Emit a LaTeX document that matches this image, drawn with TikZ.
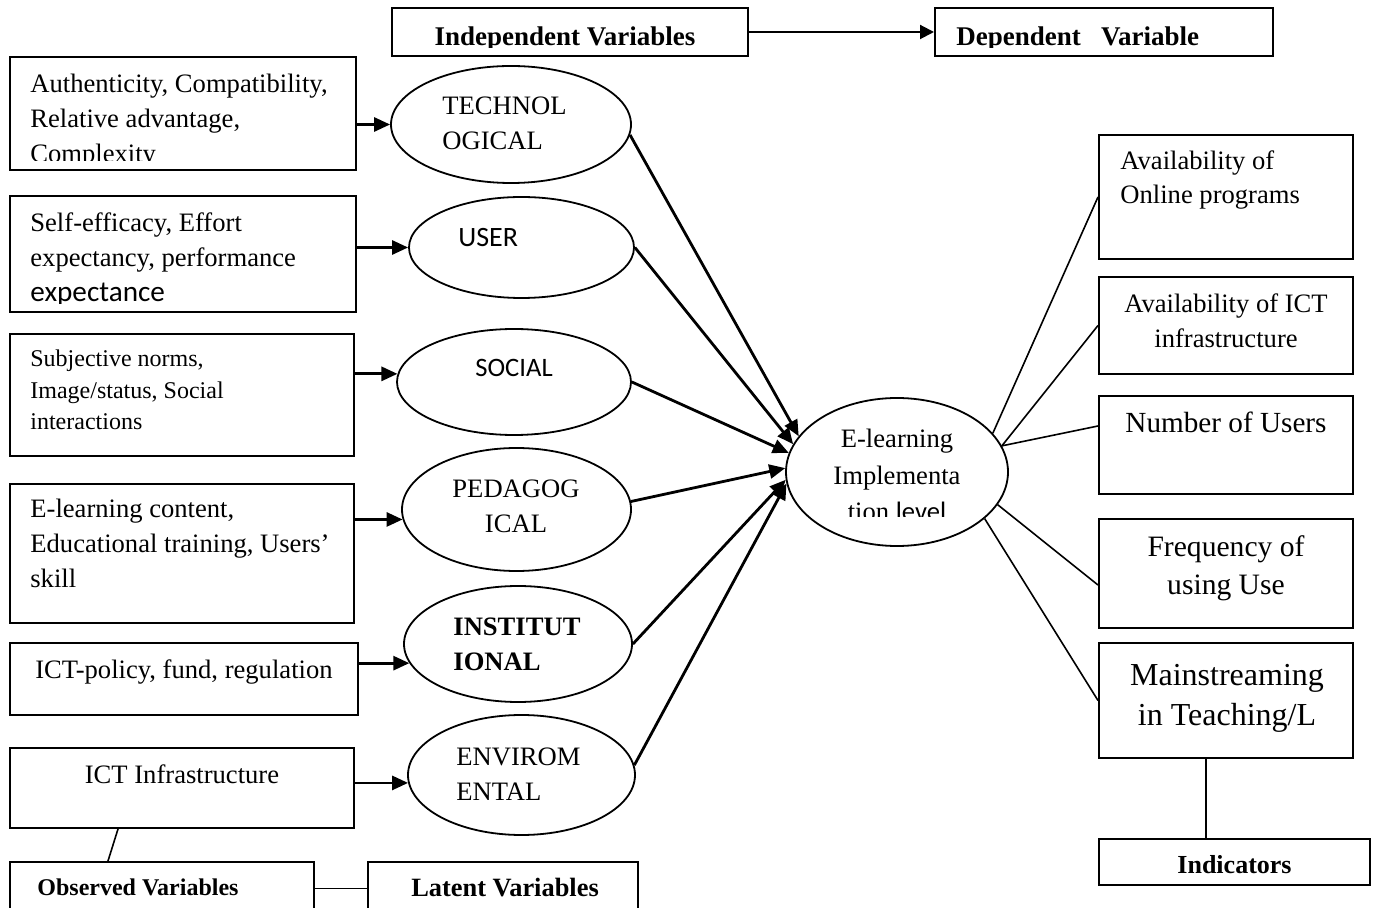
\documentclass[tikz,border=0pt]{standalone}
\usepackage{fontspec}
\setmainfont{Liberation Serif}
\newfontfamily\calibri{Carlito}
\usetikzlibrary{shapes.geometric,arrows.meta}

\tikzset{
  obsbox/.style={draw, line width=1pt, inner sep=0pt},
  latent/.style={draw, ellipse, line width=0.9pt, inner sep=0pt},
  txt/.style={inner sep=0pt, align=left, font=\fontsize{13.3}{17.5}\selectfont},
  boldtxt/.style={inner sep=0pt, align=left, font=\fontsize{13.5}{17.5}\selectfont\bfseries},
  arrin/.style={-{Triangle[length=8pt,width=7pt]}, line width=1.4pt},
  arrtop/.style={-{Triangle[length=7pt,width=7pt]}, line width=1pt},
  link/.style={line width=0.8pt},
}

\begin{document}
\begin{tikzpicture}[x=0.5pt, y=-0.5pt]
    \useasboundingbox (0,0) rectangle (1376,908);

    % top: independent -> dependent
    \node[obsbox, minimum width=178pt, minimum height=24pt] (indep) at (570,32) {};
    \node[obsbox, minimum width=169pt, minimum height=24pt] (dep) at (1104,32) {};
    \begin{scope}
        \clip (indep.north west) rectangle ([yshift=4.5pt]indep.south east);
        \node[boldtxt, anchor=base] (indeptxt) at (565,46) {Independent Variables};
    \end{scope}
    \begin{scope}
        \clip (dep.north west) rectangle ([yshift=4.5pt]dep.south east);
        \node[boldtxt, anchor=base west] (deptxt) at (956,46) {Dependent\ \ \ Variable};
    \end{scope}
    \draw[arrtop] (indep) -- (dep);

    % observed variables (left column)
    \node[obsbox, minimum width=173pt, minimum height=56.5pt] (b1) at (183,113.5) {};
    \node[obsbox, minimum width=173pt, minimum height=58pt] (b2) at (183,254) {};
    \node[obsbox, minimum width=172pt, minimum height=61pt] (b3) at (182,395) {};
    \node[obsbox, minimum width=172pt, minimum height=69.5pt] (b4) at (182,553.5) {};
    \node[obsbox, minimum width=174pt, minimum height=36pt] (b5) at (184,679) {};
    \node[obsbox, minimum width=172pt, minimum height=40pt] (b6) at (182,788) {};

    % (base anchor of a multi-line node = last line)
    \begin{scope}
        \clip (b1.north west) rectangle ([yshift=5pt]b1.south east);
        \node[txt, anchor=base west] (b1txt) at (30,163)
            {Authenticity, Compatibility,\\Relative advantage,\\Complexity};
    \end{scope}
    \begin{scope}
        \clip (b2.north west) rectangle ([yshift=4.5pt]b2.south east);
        \node[txt, anchor=base west] (b2txt) at (30,302)
            {Self-efficacy, Effort\\expectancy, performance\\{\calibri\fontsize{14.6}{17.5}\selectfont expectance}};
    \end{scope}
    \node[txt, anchor=base west, font=\fontsize{12}{15.75}\selectfont] (b3txt) at (30,430)
        {Subjective norms,\\Image/status, Social\\interactions};
    \node[txt, anchor=base west] (b4txt) at (30,588)
        {E-learning content,\\Educational training, Users’\\skill};
    \node[txt, anchor=base] (b5txt) at (184,678) {ICT-policy, fund, regulation};
    \node[txt, anchor=base] (b6txt) at (182,783) {ICT Infrastructure};

    % latent variables
    \node[latent, minimum width=120pt, minimum height=58.5pt] (tech) at (511,124.5) {};
    \node[latent, minimum width=112.5pt, minimum height=50.5pt] (user) at (521.5,247.5) {};
    \node[latent, minimum width=117pt, minimum height=53pt] (soc) at (514,382) {};
    \node[latent, minimum width=114.5pt, minimum height=61.5pt] (ped) at (516.5,509.5) {};
    \node[latent, minimum width=114pt, minimum height=58pt] (inst) at (518,644) {};
    \node[latent, minimum width=113.5pt, minimum height=60pt] (env) at (521.5,775) {};

    \node[txt, anchor=base west] (techtxt) at (442,150) {TECHNOL\\OGICAL};
    \node[txt, anchor=base west, font=\calibri\fontsize{14}{17.5}\selectfont] (usertxt) at (458,247) {USER};
    \node[txt, anchor=base west, font=\calibri\fontsize{13.3}{17.5}\selectfont] (soctxt) at (475,377) {SOCIAL};
    \node[txt, anchor=base, align=center] (pedtxt) at (516,533) {PEDAGOG\\ICAL};
    \node[boldtxt, anchor=base west, font=\fontsize{13.3}{17.5}\selectfont\bfseries] (insttxt) at (453,670) {INSTITUT\\IONAL};
    \node[txt, anchor=base west] (envtxt) at (456,800) {ENVIROM\\ENTAL};

    \draw[arrin] (b1.east |- tech.west) -- (tech.west);
    \draw[arrin] (b2.east |- user.west) -- (user.west);
    \draw[arrin] (b3.east |- soc.176) -- (soc.176);
    \draw[arrin] (b4.east |- ped.185) -- (ped.185);
    \draw[arrin] (b5.east |- inst.190) -- (inst.190);
    \draw[arrin] (b6.east |- env.184) -- (env.184);

    % dependent variable
    \node[latent, minimum width=111pt, minimum height=74pt] (elearn) at (897,472) {};
    \begin{scope}
        \clip (elearn.west |- elearn.north) rectangle ([yshift=15pt]elearn.east |- elearn.south);
        \node[txt, anchor=base, align=center, font=\fontsize{13.3}{18.3}\selectfont] (elearntxt) at (897,521)
            {E-learning\\Implementa\\tion {\calibri level}};
    \end{scope}

    \draw[arrin] (tech.-5) -- (elearn.160);
    \draw[arrin] (user.east) -- (elearn.165);
    \draw[arrin] (soc.east) -- (elearn.170);
    \draw[arrin] (ped.4) -- (elearn.178);
    \draw[arrin] (inst.east) -- (elearn.184);
    \draw[arrin] (env.5) -- (elearn.186);

    % indicators (right column)
    \node[obsbox, minimum width=127pt, minimum height=62pt] (r1) at (1226,197) {};
    \node[obsbox, minimum width=127pt, minimum height=48.5pt] (r2) at (1226,325.5) {};
    \node[obsbox, minimum width=127pt, minimum height=49pt] (r3) at (1226,445) {};
    \node[obsbox, minimum width=127pt, minimum height=54.5pt] (r4) at (1226,573.5) {};
    \node[obsbox, minimum width=127pt, minimum height=57.5pt] (r5) at (1226,700.5) {};

    \node[txt, anchor=base west, font=\fontsize{13.3}{17}\selectfont] (r1txt) at (1120,204) {Availability of\\Online programs};
    \node[txt, anchor=base, align=center] (r2txt) at (1226,348) {Availability of ICT\\infrastructure};
    \node[txt, anchor=base, font=\fontsize{14.6}{18}\selectfont] (r3txt) at (1226,433) {Number of Users};
    \node[txt, anchor=base, align=center, font=\fontsize{14.8}{19}\selectfont] (r4txt) at (1226,595) {Frequency of\\using Use};
    \node[txt, anchor=base, align=center, font=\fontsize{16}{20}\selectfont] (r5txt) at (1227,725) {Mainstreaming\\in Teaching/L};

    \draw[link] (elearn.22) -- (r1.west);
    \draw[link] (elearn.14) -- (r2.west);
    \draw[link] (elearn.14) -- ([yshift=9.5pt]r3.west);
    \draw[link] (elearn.-18) -- ([yshift=-5.75pt]r4.west);
    \draw[link] (elearn.-28) -- (r5.west);

    % legend boxes
    \node[obsbox, minimum width=152pt, minimum height=26.5pt] (obs) at (162,888.5) {};
    \node[obsbox, minimum width=135pt, minimum height=26.5pt] (lat) at (503,888.5) {};
    \node[obsbox, minimum width=135.5pt, minimum height=23pt] (ind) at (1234.5,861.5) {};
    \node[boldtxt, anchor=base west, font=\fontsize{12}{15}\selectfont\bfseries] (obstxt) at (37,895) {Observed Variables};
    \node[boldtxt, anchor=base, font=\fontsize{13.2}{15}\selectfont\bfseries] (lattxt) at (505,896) {Latent Variables};
    \node[boldtxt, anchor=base, font=\fontsize{13}{15}\selectfont\bfseries] (indtxt) at (1234.5,873) {Indicators};

    \draw[link] ([xshift=-32pt]b6.south) -- ([xshift=-27pt]obs.north);
    \draw[link] (obs) -- (lat);
    \draw[link] ([xshift=-10pt]r5.south) -- ([xshift=-10pt]r5.south |- ind.north);
\end{tikzpicture}
\end{document}
